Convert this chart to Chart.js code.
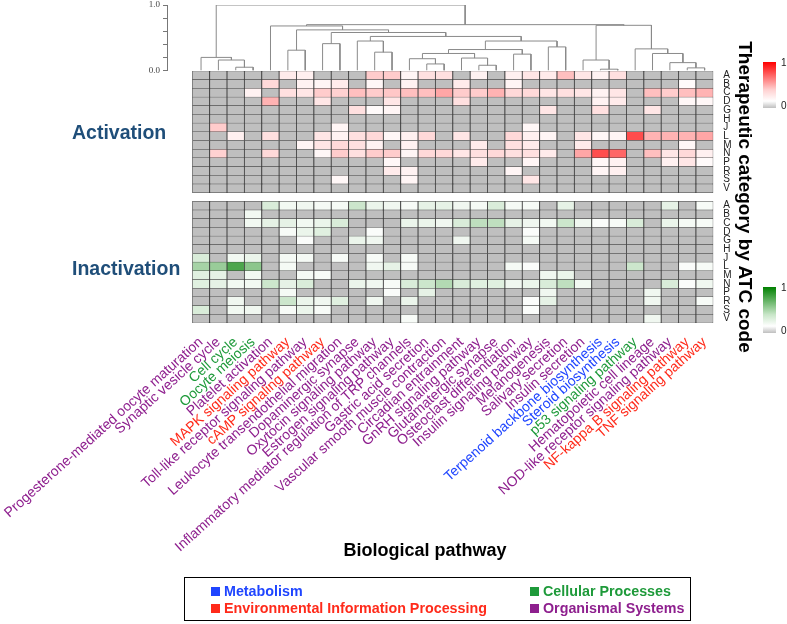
<!DOCTYPE html>
<html>
<head>
<meta charset="utf-8">
<script src="https://cdn.jsdelivr.net/npm/chart.js@4.4.1/dist/chart.umd.min.js"></script>
<style>
  html, body { margin: 0; padding: 0; background: #fff; }
  body { width: 787px; height: 624px; position: relative; overflow: hidden; font-family: "Liberation Sans", Arial, sans-serif; }
  canvas { position: absolute; left: 0; top: 0; }
  .block-label { position: absolute; left: 72px; font-weight: bold; font-size: 19.5px; color: #1f4e79; line-height: 22px; }
  .side-title { position: absolute; left: 580px; top: 186px; width: 330px; text-align: center; font-weight: bold; font-size: 19px; line-height: 22px; transform: rotate(90deg); transform-origin: 165px 11px; white-space: nowrap; }
  .bar { position: absolute; left: 763px; width: 13px; height: 46px; }
  .bar-tick { position: absolute; left: 781px; font-size: 10px; line-height: 10px; color: #222; }
  .x-title { position: absolute; left: 225px; width: 400px; top: 539px; text-align: center; font-weight: bold; font-size: 18px; line-height: 22px; }
  .legend { position: absolute; left: 184px; top: 577px; width: 505px; height: 42px; border: 1px solid #000; }
  .legend-item { position: absolute; font-weight: bold; font-size: 14.3px; line-height: 16px; white-space: nowrap; }
  .legend-item span { display: inline-block; width: 9px; height: 9px; margin-right: 4px; vertical-align: 0px; }
</style>
</head>
<body>
<canvas id="heat-chart" width="787" height="624"></canvas>
<canvas id="dendro-chart" width="787" height="80"></canvas>

<div class="block-label" style="top:121px">Activation</div>
<div class="block-label" style="top:257px">Inactivation</div>
<div class="side-title">Therapeutic category by ATC code</div>

<div class="bar" style="top:62px; background: linear-gradient(to bottom, #ff0000, #ffd0d0 60%, #ffffff 85%, #bfbfbf);"></div>
<div class="bar-tick" style="top:58px">1</div>
<div class="bar-tick" style="top:101px">0</div>
<div class="bar" style="top:287px; background: linear-gradient(to bottom, #008000, #c8e6c8 60%, #ffffff 85%, #bfbfbf);"></div>
<div class="bar-tick" style="top:283px">1</div>
<div class="bar-tick" style="top:326px">0</div>

<div class="x-title">Biological pathway</div>
<div class="legend" id="legend"></div>

<script>
const pathways = [
  "Progesterone-mediated oocyte maturation",
  "Synaptic vesicle cycle",
  "Cell cycle",
  "Oocyte meiosis",
  "Platelet activation",
  "MAPK signaling pathway",
  "Toll-like receptor signaling pathway",
  "cAMP signaling pathway",
  "Leukocyte transendothelial migration",
  "Dopaminergic synapse",
  "Oxytocin signaling pathway",
  "Estrogen signaling pathway",
  "Inflammatory mediator regulation of TRP channels",
  "Gastric acid secretion",
  "Vascular smooth muscle contraction",
  "Circadian entrainment",
  "GnRH signaling pathway",
  "Glutamatergic synapse",
  "Osteoclast differentiation",
  "Insulin signaling pathway",
  "Melanogenesis",
  "Salivary secretion",
  "Insulin secretion",
  "Terpenoid backbone biosynthesis",
  "Steroid biosynthesis",
  "p53 signaling pathway",
  "Hematopoietic cell lineage",
  "NOD-like receptor signaling pathway",
  "NF-kappa B signaling pathway",
  "TNF signaling pathway",
];

const pathwayGroups = [
  "org", "org", "cell", "cell", "org", "env", "org", "env", "org", "org",
  "org", "org", "org", "org", "org", "org", "org", "org", "org", "org",
  "org", "org", "org", "met", "met", "cell", "org", "org", "env", "env",
];

const groupNames = ["met", "env", "cell", "org"];
const groupLabels = ["Metabolism", "Environmental Information Processing", "Cellular Processes", "Organismal Systems"];
const groupColors = { met: "#1f45ff", env: "#ff2a1a", cell: "#1e9a3a", org: "#8e1f8e" };

const rowCodes = ["A", "B", "C", "D", "G", "H", "J", "L", "M", "N", "P", "R", "S", "V"];

// activation scores, one row per ATC code, one value per pathway
const activationRows = [
  [0, 0, 0, 0, 0, .08, .06, 0, 0, 0, .2, .2, .04, .12, .12, 0, .05, 0, .06, .1, .08, .25, .1, .05, .12, 0, 0, 0, 0, 0],
  [0, 0, 0, 0, .15, 0, .05, .04, .08, 0, .03, 0, .05, 0, 0, .08, 0, 0, .04, 0, 0, 0, 0, 0, 0, 0, 0, 0, .02, 0],
  [0, 0, 0, .05, 0, .12, .1, .2, .18, .25, .2, .22, .25, .25, .35, .2, .2, .3, .15, .15, .1, .12, .1, .05, .1, 0, .25, .2, .25, .3],
  [0, 0, 0, 0, .3, 0, 0, .1, 0, 0, 0, .1, 0, 0, 0, .12, 0, 0, 0, 0, 0, 0, 0, .05, .08, 0, 0, 0, .03, .03],
  [0, 0, 0, 0, 0, 0, 0, 0, 0, .12, .02, .04, 0, 0, 0, 0, 0, 0, 0, 0, .1, 0, 0, .12, 0, 0, .1, 0, 0, 0],
  [0, 0, 0, 0, 0, 0, 0, 0, 0, 0, 0, 0, 0, 0, 0, 0, 0, 0, 0, 0, 0, 0, 0, 0, 0, 0, 0, 0, 0, 0],
  [0, .2, 0, 0, 0, 0, 0, 0, .04, 0, 0, 0, 0, 0, 0, 0, 0, 0, 0, .03, 0, 0, 0, 0, 0, 0, 0, 0, 0, 0],
  [0, 0, .06, 0, .12, 0, 0, .1, .05, .12, .15, .03, .06, .15, 0, .1, 0, 0, .15, .06, .04, 0, .1, .03, .04, .7, .3, .3, .3, .35],
  [0, 0, 0, 0, 0, 0, .04, .1, .15, .12, .05, 0, .05, 0, 0, 0, .08, 0, .12, .08, 0, 0, .08, 0, 0, 0, 0, 0, .03, 0],
  [0, .18, 0, 0, .15, 0, 0, .03, .2, .12, .2, .2, .04, .15, .15, .1, .12, .15, .12, .12, .08, 0, .35, .7, .6, 0, .25, .1, .15, .06],
  [0, 0, 0, 0, 0, 0, 0, 0, 0, 0, 0, .03, 0, 0, 0, 0, .08, 0, 0, .04, 0, 0, 0, .03, .05, 0, 0, .06, .1, .02],
  [0, 0, 0, 0, 0, 0, 0, 0, 0, 0, 0, .08, .05, 0, 0, 0, 0, 0, .04, 0, 0, 0, 0, .04, .06, 0, 0, 0, 0, 0],
  [0, 0, 0, 0, 0, 0, 0, 0, .03, 0, 0, 0, .04, 0, 0, 0, 0, 0, 0, .1, 0, 0, 0, 0, 0, 0, 0, 0, 0, 0],
  [0, 0, 0, 0, 0, 0, 0, 0, 0, 0, 0, 0, 0, 0, 0, 0, 0, 0, 0, 0, 0, 0, 0, 0, 0, 0, 0, 0, 0, 0],
];

const inactivationRows = [
  [0, 0, 0, 0, .15, .05, .06, .04, .04, .2, .08, .06, .03, .1, .1, .06, .04, .15, .04, .03, 0, .1, 0, 0, 0, 0, 0, .1, 0, .03],
  [0, 0, 0, .05, 0, 0, 0, 0, 0, 0, 0, 0, 0, 0, 0, 0, 0, 0, 0, 0, 0, 0, 0, 0, 0, 0, 0, 0, 0, 0],
  [0, 0, 0, .05, .1, .1, .05, .08, .15, 0, 0, 0, .08, .08, .06, .15, .25, .25, .1, .06, .05, .2, .06, .02, .03, .15, 0, .08, .04, .03],
  [0, 0, 0, 0, 0, .03, .08, .12, 0, 0, .02, 0, 0, 0, 0, 0, 0, 0, 0, .02, 0, 0, 0, 0, 0, 0, 0, 0, 0, 0],
  [0, 0, 0, 0, 0, 0, .02, 0, 0, .08, .06, 0, 0, 0, 0, .06, 0, 0, 0, .04, 0, 0, 0, 0, 0, 0, 0, 0, 0, 0],
  [0, 0, 0, 0, 0, 0, 0, 0, 0, 0, 0, 0, 0, 0, 0, 0, 0, 0, 0, 0, 0, 0, 0, 0, 0, 0, 0, 0, 0, 0],
  [.15, 0, .05, .08, 0, .04, .04, 0, .03, 0, .03, 0, .03, 0, 0, 0, 0, 0, 0, 0, 0, 0, 0, 0, 0, 0, 0, 0, 0, 0],
  [.35, .4, .7, .45, 0, .04, 0, 0, 0, 0, .06, .1, .03, 0, 0, 0, 0, 0, .04, .02, 0, 0, 0, 0, 0, .2, 0, 0, .02, .03],
  [.12, .1, 0, .05, 0, 0, .04, .03, 0, 0, 0, 0, 0, 0, 0, 0, 0, 0, 0, 0, .06, .08, 0, 0, 0, 0, 0, 0, 0, 0],
  [.12, .1, .05, .05, .2, .1, .15, 0, 0, .08, .06, .03, .15, .2, .3, .15, .12, .12, .06, .08, .15, .25, .05, 0, 0, 0, 0, .15, .02, .06],
  [0, 0, 0, 0, 0, .04, 0, 0, 0, 0, 0, .02, 0, .1, 0, 0, 0, 0, 0, 0, .06, 0, 0, 0, 0, 0, .06, 0, 0, 0],
  [0, 0, .06, 0, 0, .2, .08, .06, .12, 0, .06, 0, .08, 0, 0, 0, 0, 0, 0, .02, .1, 0, 0, 0, 0, 0, .06, 0, 0, .03],
  [.15, 0, .05, .06, 0, .03, .08, .03, 0, 0, 0, 0, 0, 0, 0, 0, 0, 0, 0, .02, 0, 0, 0, 0, 0, 0, 0, 0, 0, 0],
  [0, 0, 0, 0, 0, 0, 0, 0, 0, 0, 0, 0, .03, 0, 0, 0, 0, 0, 0, 0, 0, 0, 0, 0, 0, 0, .06, 0, 0, 0],
];

// hierarchical clustering of the pathways: [left id, right id, height]
// ids 0-29 are pathways, merge n makes cluster id 30 + n
const dendroMerges = [
  [2, 3, 0.05], [1, 30, 0.16], [0, 31, 0.20],
  [5, 6, 0.31], [7, 8, 0.41], [10, 11, 0.28], [9, 35, 0.45],
  [13, 14, 0.10], [12, 37, 0.18], [16, 17, 0.08], [15, 39, 0.19], [38, 40, 0.26],
  [18, 19, 0.25], [41, 42, 0.32], [20, 21, 0.36], [43, 44, 0.45],
  [36, 45, 0.52], [34, 46, 0.58], [33, 47, 0.62], [4, 48, 0.68],
  [23, 24, 0.02], [22, 50, 0.16], [28, 29, 0.04], [27, 52, 0.12], [26, 53, 0.26], [25, 54, 0.33],
  [51, 55, 0.69], [49, 56, 0.70], [32, 57, 1.0],
];

const dendroTicks = [0, 0.2, 0.4, 0.6, 0.8, 1.0];

const GREY = "#bfbfbf";

function cellColor(value, kind) {
  if (!value) return GREY;
  const v = Math.min(1, value);
  const fade = Math.round(255 * (1 - v));
  if (kind === "red") return `rgb(255, ${fade}, ${fade})`;
  return `rgb(${fade}, ${Math.round(255 - 127 * v)}, ${fade})`;
}

function makeRowDataset(values, kind) {
  return {
    data: values.map(() => 1),
    backgroundColor: values.map((v) => cellColor(v, kind)),
    borderColor: "#3c3c3c",
    borderWidth: { left: 0.8, right: 0.8, top: 0.5, bottom: 0.5 },
    borderSkipped: false,
    barPercentage: 1,
    categoryPercentage: 1,
  };
}

function buildHeatDatasets() {
  const datasets = [];
  for (let r = rowCodes.length - 1; r >= 0; r--) {
    datasets.push(makeRowDataset(inactivationRows[r], "green"));
  }
  datasets.push({
    data: pathways.map(() => 1),
    backgroundColor: "rgba(0,0,0,0)",
    borderWidth: 0,
    barPercentage: 1,
    categoryPercentage: 1,
  });
  for (let r = rowCodes.length - 1; r >= 0; r--) {
    datasets.push(makeRowDataset(activationRows[r], "red"));
  }
  return datasets;
}

const totalRows = rowCodes.length * 2 + 1;

function rowLabel(value) {
  const fromTop = Math.round(totalRows - value - 0.5);
  if (fromTop < rowCodes.length) return rowCodes[fromTop];
  if (fromTop === rowCodes.length) return "";
  return rowCodes[fromTop - rowCodes.length - 1];
}

new Chart(document.getElementById("heat-chart"), {
  type: "bar",
  data: { labels: pathways, datasets: buildHeatDatasets() },
  options: {
    responsive: false,
    animation: false,
    events: [],
    layout: { padding: { left: 192.3, right: 53.7, top: 71, bottom: 0 } },
    plugins: { legend: { display: false }, tooltip: { enabled: false } },
    scales: {
      x: {
        stacked: true,
        grid: { display: false },
        border: { display: false },
        ticks: {
          autoSkip: false,
          minRotation: 42,
          maxRotation: 42,
          padding: 3,
          font: { family: '"Liberation Sans", Arial, sans-serif', size: 14 },
          color: (ctx) => groupColors[pathwayGroups[ctx.index]],
        },
        afterFit: (scale) => {
          scale.height = 301;
          scale.paddingLeft = 0;
          scale.paddingRight = 0;
        },
      },
      y: { stacked: true, display: false, min: 0, max: totalRows },
      yr: {
        type: "linear",
        position: "right",
        min: 0,
        max: totalRows,
        grid: { display: false },
        border: { display: false },
        afterBuildTicks: (scale) => {
          const ticks = [];
          for (let i = 0; i < totalRows; i++) {
            if (i !== rowCodes.length) ticks.push({ value: i + 0.5 });
          }
          scale.ticks = ticks;
        },
        afterFit: (scale) => {
          scale.width = 20;
        },
        ticks: {
          autoSkip: false,
          padding: 2,
          font: { family: '"Liberation Sans", Arial, sans-serif', size: 10 },
          color: "#222",
          callback: (value) => rowLabel(value),
        },
      },
    },
  },
});

function buildDendroSegments() {
  const pos = pathways.map((_, i) => i);
  const height = pathways.map(() => 0);
  return dendroMerges.map(([a, b, h]) => {
    pos.push((pos[a] + pos[b]) / 2);
    height.push(h);
    return [
      { x: pos[a], y: height[a] },
      { x: pos[a], y: h },
      { x: pos[b], y: h },
      { x: pos[b], y: height[b] },
    ];
  });
}

new Chart(document.getElementById("dendro-chart"), {
  type: "scatter",
  data: {
    datasets: buildDendroSegments().map((points) => ({
      data: points,
      showLine: true,
      borderColor: "#8a8a8a",
      borderWidth: 1,
      pointRadius: 0,
      fill: false,
    })),
  },
  options: {
    responsive: false,
    animation: false,
    events: [],
    layout: { padding: { left: 137, right: 73.7, top: 5, bottom: 9.5 } },
    plugins: { legend: { display: false }, tooltip: { enabled: false } },
    scales: {
      x: { type: "linear", display: false, min: -1.96, max: pathways.length - 0.5 },
      y: {
        type: "linear",
        min: 0,
        max: 1,
        afterBuildTicks: (scale) => {
          scale.ticks = dendroTicks.map((v) => ({ value: v }));
        },
        afterFit: (scale) => {
          scale.width = 30;
          scale.paddingTop = 0;
          scale.paddingBottom = 0;
        },
        ticks: {
          autoSkip: false,
          padding: 3,
          font: { family: '"Liberation Serif", serif', size: 9 },
          color: "#444",
          callback: (v) => (v === 0 || v === 1 ? v.toFixed(1) : ""),
        },
        grid: { drawOnChartArea: false, drawTicks: true, tickLength: 4, color: "#777" },
        border: { display: true, color: "#777" },
      },
    },
  },
});

document.getElementById("legend").innerHTML = groupNames
  .map((g, i) => {
    const left = i < 2 ? 26 : 345;
    const top = i % 2 === 0 ? 5 : 22;
    return `<div class="legend-item" style="left:${left}px; top:${top}px; color:${groupColors[g]}"><span style="background:${groupColors[g]}"></span>${groupLabels[i]}</div>`;
  })
  .join("");
</script>
</body>
</html>
